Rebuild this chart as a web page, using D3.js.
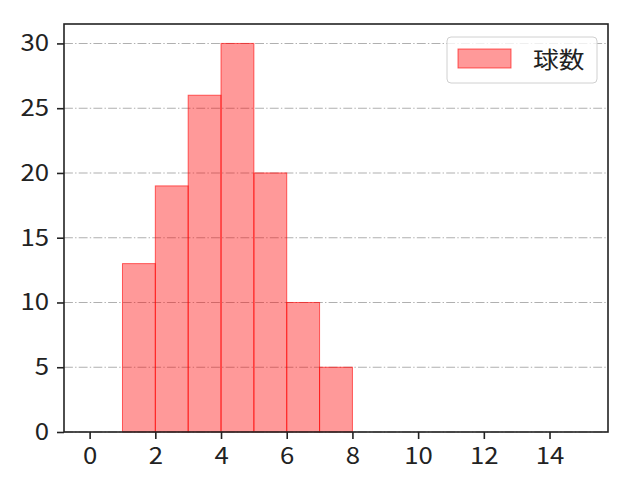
<!DOCTYPE html>
<html>
<head>
<meta charset="utf-8">
<script src="https://cdn.jsdelivr.net/npm/d3@7"></script>
<style>
  body { margin: 0; background: #fff; }
</style>
</head>
<body>
<div id="chart"></div>
<script>
// histogram bins (left edge, right edge) and counts
const binStarts = [1, 2, 3, 4, 5, 6, 7];
const binEnds = [2, 3, 4, 5, 6, 7, 8];
const counts = [13, 19, 26, 30, 20, 10, 5];
const xTicks = [0, 2, 4, 6, 8, 10, 12, 14];
const yTicks = [0, 5, 10, 15, 20, 25, 30];
const seriesName = '球数';

const FONT = '"Noto Sans CJK JP", "Noto Sans", sans-serif';
const STRETCH = 1.12; // reference glyphs are a bit wider than Noto's

const bins = binStarts.map((s, i) => ({ x0: s, x1: binEnds[i], n: counts[i] }));

const width = 640;
const height = 480;
const margin = { top: 24, right: 32, bottom: 48, left: 64 };

const svg = d3.select('#chart')
  .append('svg')
  .attr('width', width)
  .attr('height', height);

const x = d3.scaleLinear()
  .domain([-0.78, 15.78])
  .range([margin.left, width - margin.right]);

const y = d3.scaleLinear()
  .domain([0, 31.5])
  .range([height - margin.bottom, margin.top]);

// gridlines (dash-dot, horizontal)
svg.append('g')
  .attr('class', 'grid')
  .selectAll('line')
  .data(yTicks)
  .join('line')
  .attr('x1', margin.left)
  .attr('x2', width - margin.right)
  .attr('y1', d => y(d))
  .attr('y2', d => y(d))
  .attr('stroke', '#b0b0b0')
  .attr('stroke-width', 1.1)
  .attr('stroke-dasharray', '8.9,2.2,1.4,2.2');

// bars
svg.append('g')
  .selectAll('rect')
  .data(bins)
  .join('rect')
  .attr('x', d => x(d.x0))
  .attr('y', d => y(d.n))
  .attr('width', d => x(d.x1) - x(d.x0))
  .attr('height', d => y(0) - y(d.n))
  .attr('fill', 'rgba(255,0,0,0.4)')
  .attr('stroke', 'rgba(255,0,0,0.6)')
  .attr('stroke-width', 1);

// axes
const xAxis = d3.axisBottom(x).tickValues(xTicks).tickSize(7).tickPadding(9);
const yAxis = d3.axisLeft(y).tickValues(yTicks).tickSize(7).tickPadding(8);

const gx = svg.append('g')
  .attr('transform', `translate(0, ${height - margin.bottom})`)
  .call(xAxis);
const gy = svg.append('g')
  .attr('transform', `translate(${margin.left}, 0)`)
  .call(yAxis);

[gx, gy].forEach(g => {
  g.attr('font-family', FONT).attr('font-size', 23);
  g.select('.domain').remove();
  g.selectAll('.tick line').attr('stroke', '#222').attr('stroke-width', 1.6);
  g.selectAll('.tick text').attr('fill', '#222').attr('transform', `scale(${STRETCH},1)`);
});
// keep the y labels' right edge where it was before stretching
gy.selectAll('.tick text').attr('x', -15 / STRETCH);

// frame
svg.append('rect')
  .attr('x', margin.left)
  .attr('y', margin.top)
  .attr('width', width - margin.left - margin.right)
  .attr('height', height - margin.top - margin.bottom)
  .attr('fill', 'none')
  .attr('stroke', '#222')
  .attr('stroke-width', 1.6);

// legend
const legend = svg.append('g').attr('transform', 'translate(447, 37)');
legend.append('rect')
  .attr('width', 150)
  .attr('height', 46)
  .attr('rx', 4)
  .attr('fill', 'rgba(255,255,255,0.8)')
  .attr('stroke', '#d0d0d0');
legend.append('rect')
  .attr('x', 11)
  .attr('y', 12)
  .attr('width', 53)
  .attr('height', 19)
  .attr('fill', 'rgba(255,0,0,0.4)')
  .attr('stroke', 'rgba(255,0,0,0.6)');
legend.append('text')
  .attr('transform', `translate(86, 31) scale(${STRETCH},1)`)
  .attr('fill', '#222')
  .attr('font-family', FONT)
  .attr('font-size', 23)
  .text(seriesName);
</script>
</body>
</html>
